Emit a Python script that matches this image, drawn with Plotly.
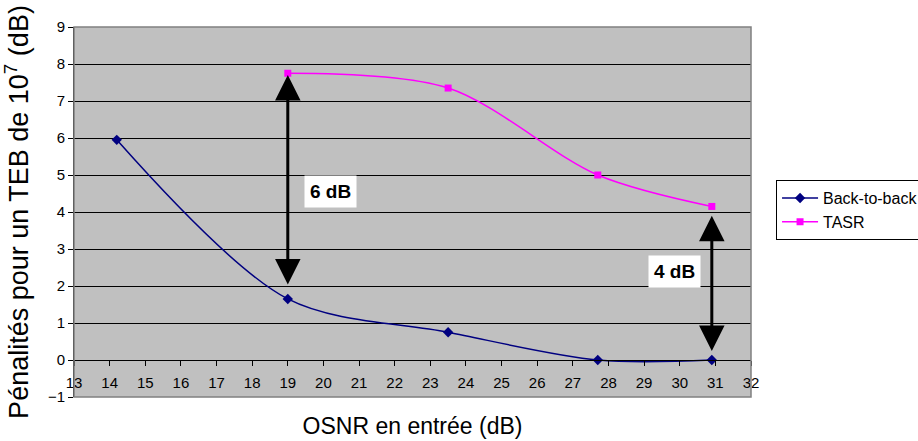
import plotly.graph_objects as go

# Data
btb_x = [14.2, 19.0, 23.5, 27.7, 30.9]
btb_y = [5.95, 1.65, 0.75, 0.0, 0.0]
tasr_x = [19.0, 23.5, 27.7, 30.9]
tasr_y = [7.75, 7.35, 5.0, 4.15]

x_ticks = list(range(13, 33))
y_ticks = list(range(-1, 10))

# Penalty annotations
arrow_x = [19.0, 30.9]
arrow_low = [2.0, 0.2]
arrow_high = [7.7, 3.9]
arrow_labels = ["6 dB", "4 dB"]
label_x = [20.2, 29.85]
label_y = [4.55, 2.4]

FONT = "Arial, Liberation Sans, sans-serif"

fig = go.Figure()
fig.add_trace(go.Scatter(
    x=btb_x, y=btb_y, mode="lines+markers", name="Back-to-back",
    line=dict(color="#000080", width=1.5, shape="spline", smoothing=0.9),
    marker=dict(symbol="diamond", size=8, color="#000080"),
))
fig.add_trace(go.Scatter(
    x=tasr_x, y=tasr_y, mode="lines+markers", name="TASR",
    line=dict(color="#FF00FF", width=1.5, shape="spline", smoothing=0.9),
    marker=dict(symbol="square", size=7, color="#FF00FF"),
))

annotations = []
for xa, lo, hi, lab, lx, ly in zip(arrow_x, arrow_low, arrow_high, arrow_labels, label_x, label_y):
    annotations.append(dict(
        x=xa, y=hi, ax=xa, ay=lo, xref="x", yref="y", axref="x", ayref="y",
        text="", showarrow=True, arrowhead=2, startarrowhead=2,
        arrowside="end+start", arrowwidth=3, arrowsize=1.7, startarrowsize=1.7,
        arrowcolor="black",
    ))
    annotations.append(dict(
        x=lx, y=ly, xref="x", yref="y", text="<b>" + lab + "</b>",
        showarrow=False, bgcolor="white", borderpad=5,
        font=dict(family=FONT, size=19, color="black"),
    ))

fig.update_layout(
    width=918, height=441,
    margin=dict(l=74, r=167, t=27, b=44, autoexpand=False),
    paper_bgcolor="white", plot_bgcolor="#C0C0C0",
    font=dict(family=FONT, size=14, color="black"),
    showlegend=True,
    legend=dict(
        x=1.037, y=0.505, xanchor="left", yanchor="middle",
        bgcolor="white", bordercolor="black", borderwidth=1,
        font=dict(family=FONT, size=16, color="black"),
        tracegroupgap=0, itemwidth=36,
    ),
    annotations=annotations,
    shapes=[dict(type="rect", xref="paper", yref="paper", x0=0, x1=1, y0=0, y1=1,
                 line=dict(color="#808080", width=1.5), fillcolor="rgba(0,0,0,0)", layer="above")],
    xaxis=dict(
        range=[13, 32], tickvals=x_ticks, ticktext=[str(v) for v in x_ticks],
        anchor="free", position=0.1, showline=True, linecolor="black", linewidth=1,
        ticks="outside", ticklen=5, tickcolor="black", showgrid=False, zeroline=False,
        tickfont=dict(size=15), automargin=False, ticklabelstandoff=4,
        title=dict(text="OSNR en entrée (dB)", font=dict(size=23), standoff=27),
    ),
    yaxis=dict(
        range=[-1, 9], tickvals=y_ticks, showline=True, linecolor="black", linewidth=1,
        ticks="outside", ticklen=5, tickcolor="black",
        showgrid=True, gridcolor="black", gridwidth=1, zeroline=False,
        tickfont=dict(size=15), automargin=False,
        title=dict(text="Pénalités pour un TEB de 10<sup>7</sup> (dB)", font=dict(size=27), standoff=20),
    ),
)

fig.write_html("out.html", config={"displayModeBar": False},
               post_script="document.body.style.margin='0';document.body.style.overflow='hidden';")
